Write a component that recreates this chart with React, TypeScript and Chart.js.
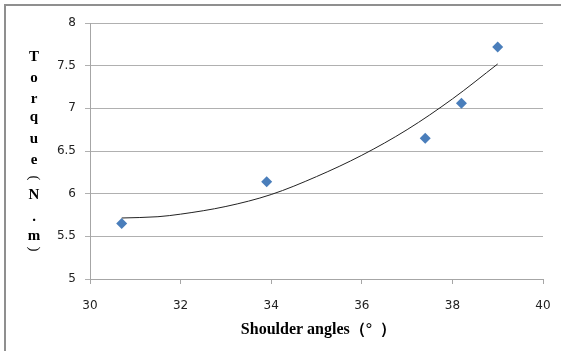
import React, { useEffect, useRef } from "react";
import { Chart, registerables } from "chart.js";

Chart.register(...registerables);

const angles = [30.7, 33.9, 37.4, 38.2, 39.0];
const torques = [5.65, 6.14, 6.65, 7.06, 7.72];

// trendline
const trendX = [30.7, 31.5, 32, 33, 34, 35, 36, 37, 38, 39];
const trendY = [5.715, 5.73, 5.76, 5.85, 5.99, 6.2, 6.45, 6.75, 7.11, 7.52];

const xTicks = [30, 32, 34, 36, 38, 40];
const yTicks = [5, 5.5, 6, 6.5, 7, 7.5, 8];

const xTitle = "Shoulder angles（°  ）";
const yTitleChars = ["T", "o", "r", "q", "u", "e", "(", "N", ".", "m", ")"];

const titlePlugin = {
  id: "customTitles",
  afterDraw(chart: any) {
    const ctx = chart.ctx;
    ctx.save();
    ctx.fillStyle = "#000";
    ctx.textAlign = "center";
    ctx.textBaseline = "middle";
    const ys = [57, 78, 99, 117, 139, 160, 178, 195, 217, 236, 249];
    yTitleChars.forEach((c, i) => {
      if (c === "(" || c === ")") {
        ctx.save();
        ctx.translate(34, ys[i]);
        ctx.rotate(Math.PI / 2);
        ctx.font = "15px 'Liberation Serif', serif";
        ctx.fillText(c, 0, 0);
        ctx.restore();
      } else {
        ctx.font = "bold 15px 'Liberation Serif', serif";
        ctx.fillText(c, 34, ys[i]);
      }
    });
    ctx.font = "bold 16px 'Liberation Serif', serif";
    const area = chart.chartArea;
    ctx.fillText(xTitle, (area.left + area.right) / 2 + 2, 330);
    ctx.restore();
  },
};

export default function App() {
  const ref = useRef<HTMLCanvasElement>(null);
  useEffect(() => {
    const chart = new Chart(ref.current!, {
      type: "scatter",
      data: {
        datasets: [
          {
            label: "Torque",
            data: angles.map((x, i) => ({ x, y: torques[i] })),
            pointStyle: "rectRot",
            pointRadius: 5.5,
            backgroundColor: "#4a7ebb",
            borderColor: "#4a7ebb",
            borderWidth: 0,
            showLine: false,
            order: 1,
          },
          {
            label: "Trend",
            data: trendX.map((x, i) => ({ x, y: trendY[i] })),
            showLine: true,
            pointRadius: 0,
            borderColor: "#222",
            borderWidth: 1,
            cubicInterpolationMode: "monotone",
            fill: false,
            order: 2,
          } as any,
        ],
      },
      options: {
        animation: false,
        responsive: false,
        maintainAspectRatio: false,
        layout: { padding: { left: 0, right: 18, top: 23, bottom: 0 } },
        plugins: { legend: { display: false }, tooltip: { enabled: false } },
        scales: {
          x: {
            type: "linear",
            min: 30,
            max: 40,
            afterBuildTicks: (s: any) => {
              s.ticks = xTicks.map((v) => ({ value: v }));
            },
            afterFit: (s: any) => {
              s.height = 72;
              s.paddingLeft = 0;
              s.paddingRight = 8;
            },
            grid: {
              drawOnChartArea: false,
              drawTicks: true,
              tickLength: 5,
              color: "#a6a6a6",
            },
            border: { color: "#a6a6a6", width: 1 },
            ticks: {
              padding: 15,
              color: "#222",
              font: { family: "'DejaVu Sans', sans-serif", size: 12 },
            },
          },
          y: {
            type: "linear",
            min: 5,
            max: 8,
            afterBuildTicks: (s: any) => {
              s.ticks = yTicks.map((v) => ({ value: v }));
            },
            afterFit: (s: any) => {
              s.width = 90;
            },
            grid: {
              drawOnChartArea: true,
              drawTicks: true,
              tickLength: 5,
              color: "#b0b0b0",
            },
            border: { color: "#a6a6a6", width: 1 },
            ticks: {
              padding: 9,
              color: "#222",
              font: { family: "'DejaVu Sans', sans-serif", size: 12 },
              callback: (v: any) => String(v),
            },
          },
        },
      },
      plugins: [titlePlugin],
    });
    return () => chart.destroy();
  }, []);
  return (
    <div style={{ position: "absolute", left: 0, top: 0, width: 561, height: 351, background: "#fff" }}>
      <div
        style={{
          position: "absolute",
          left: 4,
          top: 4,
          width: 557,
          height: 347,
          borderTop: "2px solid #8f8f8f",
          borderLeft: "2px solid #8f8f8f",
          boxSizing: "border-box",
        }}
      />
      <canvas ref={ref} width={561} height={351} style={{ position: "absolute", left: 0, top: 0 }} />
    </div>
  );
}
